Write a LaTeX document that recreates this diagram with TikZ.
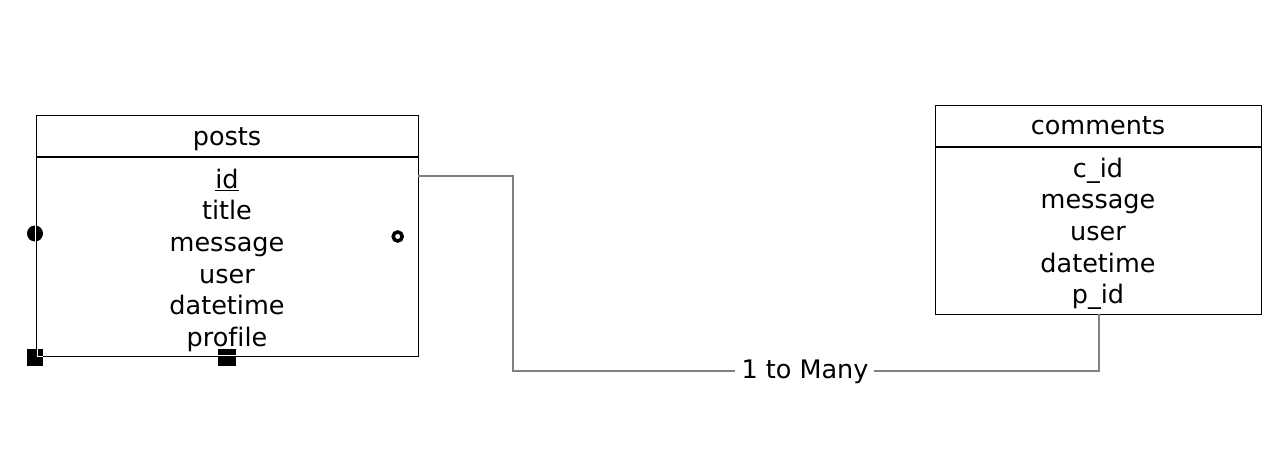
\documentclass[tikz,border=0pt]{standalone}
\usepackage{fontspec}
\setmainfont[Ligatures=NoCommon]{DejaVu Sans}
\begin{document}
\begin{tikzpicture}[x=1pt,y=-1pt,
  entity/.style={draw=black,line width=1.3pt,anchor=north west,inner sep=0pt},
  fld/.style={anchor=base,inner sep=0pt,font=\fontsize{25.5}{30}\selectfont},
  conn/.style={draw=black!50,line width=1.6pt},
  lbl/.style={inner sep=0pt,font=\fontsize{25.5}{30}\selectfont},
  handle/.style={fill=black,draw=none}]
\useasboundingbox[fill=white] (0,0) rectangle (1284,476);
% posts entity
\node[entity,minimum width=382pt,minimum height=241pt] (posts) at (36,115) {};
\draw[line width=1.3pt] (36,157) coordinate (ph1) -- (418,157) coordinate (ph2);
\node[fld] (pt) at (227,146) {posts};
\node[fld] (p1) at (227,188) {\underline{id}};
\node[fld] (p2) at (227,219.7) {title};
\node[fld] (p3) at (227,251.4) {message};
\node[fld] (p4) at (227,283.1) {user};
\node[fld] (p5) at (227,314.8) {datetime};
\node[fld] (p6) at (227,346.5) {profile};
% comments entity
\node[entity,minimum width=326pt,minimum height=209pt] (comments) at (935,105) {};
\draw[line width=1.3pt] (935,147) coordinate (ch1) -- (1261,147) coordinate (ch2);
\node[fld] (ct) at (1098,135) {comments};
\node[fld] (c1) at (1098,177) {c\_id};
\node[fld] (c2) at (1098,208.7) {message};
\node[fld] (c3) at (1098,240.4) {user};
\node[fld] (c4) at (1098,272.1) {datetime};
\node[fld] (c5) at (1098,303.8) {p\_id};
% connector
\node[lbl] (rel) at (805,372) {1 to Many};
\coordinate (s) at (418,176);
\coordinate (e) at (1099,314);
\draw[conn] (s) -- (513,176) -- (513,371) -- ([xshift=-6pt]rel.west |- 0,371);
\draw[conn] ([xshift=5pt]rel.east |- 0,371) -- (1099,371) -- (e);
% selection handles
\fill[handle] (35,233.5) circle (8);
\draw[white,line width=1pt] (35.6,225) -- (35.6,242);
\draw[black,line width=3.5pt] (397.7,236.5) circle (4.5);
\fill[handle] (27,349) rectangle (43,365.5);
\draw[white,line width=1pt] (37,349) -- (37,356) -- (43,356);
\fill[handle] (217.5,349) rectangle (235.5,365.5);
\draw[white,line width=1pt] (217.5,355.8) -- (235.5,355.8);
\end{tikzpicture}
\end{document}
